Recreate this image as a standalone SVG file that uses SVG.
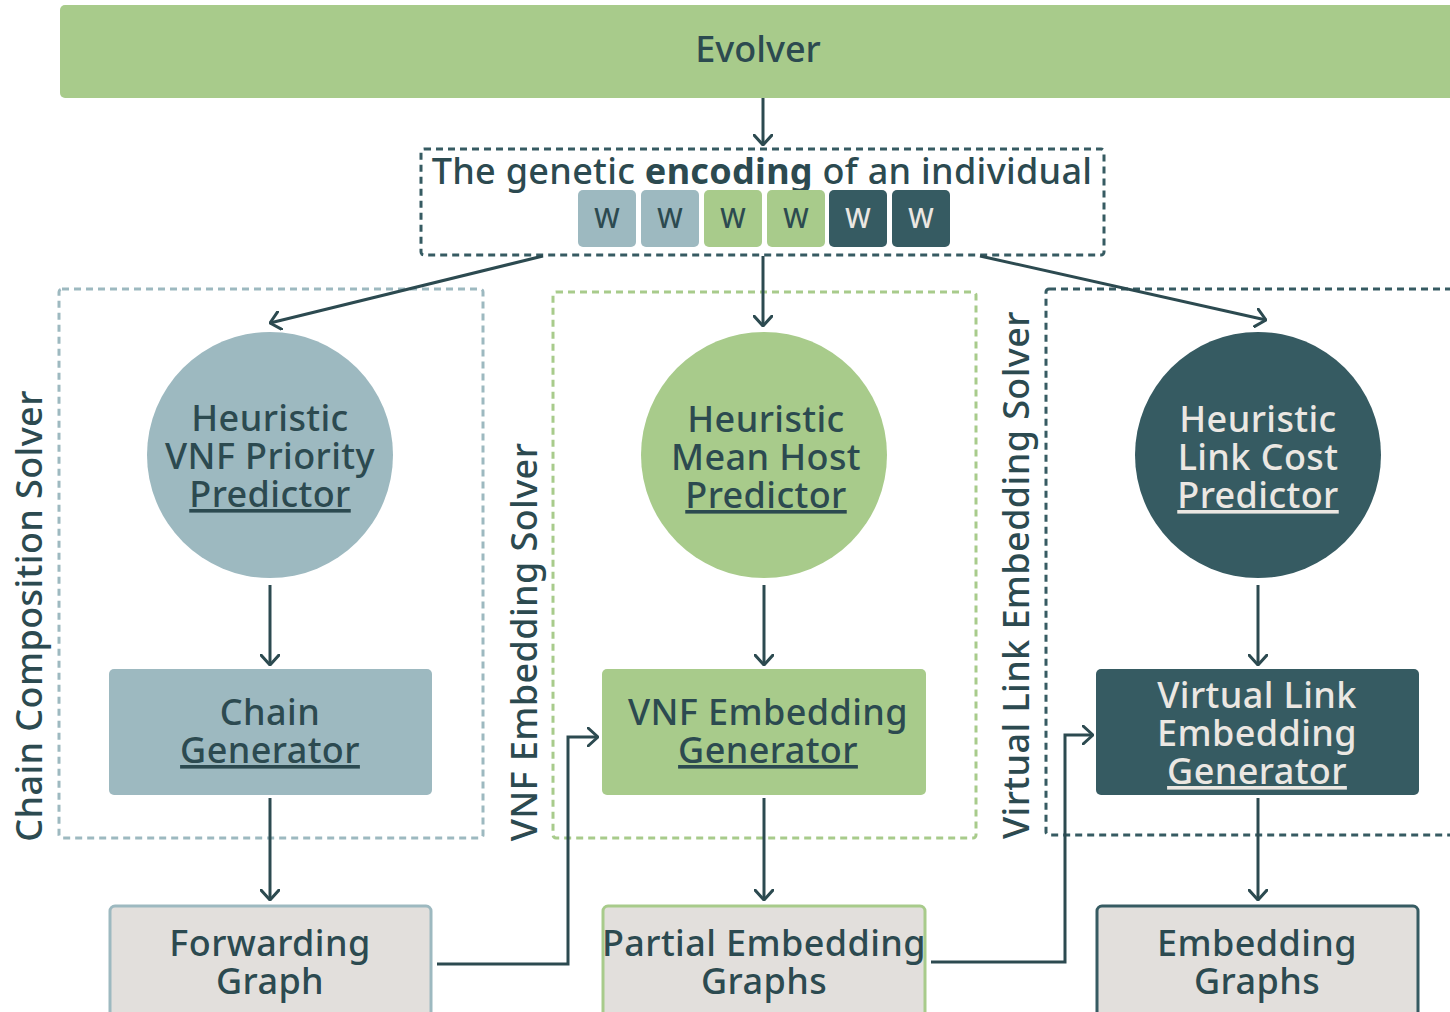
<svg xmlns="http://www.w3.org/2000/svg" width="1450" height="1012" viewBox="0 0 1450 1012">
<style>
text{font-family:"Noto Sans","Open Sans",sans-serif;fill:#2c4a50;text-anchor:middle;font-weight:500}
.big{font-size:36px;letter-spacing:0.4px}
.lt{fill:#ebe7e2}
.u{text-decoration:underline}
.con{fill:none;stroke:#2c4a50;stroke-width:3}
</style>
<defs>
<marker id="ah" viewBox="0 0 12 20" refX="11" refY="10" markerWidth="12" markerHeight="20" markerUnits="userSpaceOnUse" orient="auto">
<path d="M1,1 L11,10 L1,19" fill="none" stroke="#2c4a50" stroke-width="3" stroke-linecap="round" stroke-linejoin="round"/>
</marker>
</defs>
<rect width="1450" height="1012" fill="#ffffff"/>

<g id="evolver">
<rect x="60" y="5" width="1400" height="93" rx="5" fill="#a8cb8b"/>
<text x="758" y="62" style="font-size:36px">Evolver</text>
</g>

<g id="encoding">
<rect x="421" y="149" width="683" height="106" rx="3" fill="none" stroke="#365b62" stroke-width="3" stroke-dasharray="7 5"/>
<text x="762" y="184" style="font-size:36px;letter-spacing:0.3px">The genetic <tspan font-weight="bold">encoding</tspan> of an individual</text>
<rect x="578" y="190" width="58" height="57" rx="5" fill="#9db9c0"/>
<rect x="641" y="190" width="58" height="57" rx="5" fill="#9db9c0"/>
<rect x="704" y="190" width="58" height="57" rx="5" fill="#a8cb8b"/>
<rect x="767" y="190" width="58" height="57" rx="5" fill="#a8cb8b"/>
<rect x="829" y="190" width="58" height="57" rx="5" fill="#365b62"/>
<rect x="892" y="190" width="58" height="57" rx="5" fill="#365b62"/>
<g style="font-size:27px;font-weight:600">
<text x="607" y="228">W</text>
<text x="670" y="228">W</text>
<text x="733" y="228">W</text>
<text x="796" y="228">W</text>
<text x="858" y="228" class="lt">W</text>
<text x="921" y="228" class="lt">W</text>
</g>
</g>

<g id="chain-solver">
<rect x="59" y="289" width="424" height="549" rx="3" fill="none" stroke="#9db9c0" stroke-width="3" stroke-dasharray="7 5"/>
<text transform="translate(42,616) rotate(-90)" class="big">Chain Composition Solver</text>
</g>
<g id="vnf-solver">
<rect x="553" y="292" width="423" height="546" rx="3" fill="none" stroke="#a8cb8b" stroke-width="3" stroke-dasharray="7 5"/>
<text transform="translate(537,642) rotate(-90)" class="big">VNF Embedding Solver</text>
</g>
<g id="vl-solver">
<rect x="1046" y="289" width="420" height="546" rx="3" fill="none" stroke="#365b62" stroke-width="3" stroke-dasharray="7 5"/>
<text transform="translate(1029,575) rotate(-90)" class="big">Virtual Link Embedding Solver</text>
</g>

<g id="vnf-priority-predictor">
<circle cx="270" cy="455" r="123" fill="#9db9c0"/>
<text x="270" y="431" class="big">Heuristic</text>
<text x="270" y="469" class="big">VNF Priority</text>
<text x="270" y="507" class="big u">Predictor</text>
</g>
<g id="mean-host-predictor">
<circle cx="764" cy="455" r="123" fill="#a8cb8b"/>
<text x="766" y="432" class="big">Heuristic</text>
<text x="766" y="470" class="big">Mean Host</text>
<text x="766" y="508" class="big u">Predictor</text>
</g>
<g id="link-cost-predictor">
<circle cx="1258" cy="455" r="123" fill="#365b62"/>
<text x="1258" y="432" class="big lt">Heuristic</text>
<text x="1258" y="470" class="big lt">Link Cost</text>
<text x="1258" y="508" class="big lt u">Predictor</text>
</g>

<g id="chain-generator">
<rect x="109" y="669" width="323" height="126" rx="5" fill="#9db9c0"/>
<text x="270" y="725" class="big">Chain</text>
<text x="270" y="763" class="big u">Generator</text>
</g>
<g id="vnf-embedding-generator">
<rect x="602" y="669" width="324" height="126" rx="5" fill="#a8cb8b"/>
<text x="768" y="725" class="big">VNF Embedding</text>
<text x="768" y="763" class="big u">Generator</text>
</g>
<g id="vl-embedding-generator">
<rect x="1096" y="669" width="323" height="126" rx="5" fill="#365b62"/>
<text x="1257" y="708" class="big lt">Virtual Link</text>
<text x="1257" y="746" class="big lt">Embedding</text>
<text x="1257" y="784" class="big lt u">Generator</text>
</g>

<g id="forwarding-graph">
<rect x="110" y="906" width="321" height="120" rx="5" fill="#e2dfdc" stroke="#9db9c0" stroke-width="3"/>
<text x="270" y="956" class="big">Forwarding</text>
<text x="270" y="994" class="big">Graph</text>
</g>
<g id="partial-embedding-graphs">
<rect x="603" y="906" width="322" height="120" rx="5" fill="#e2dfdc" stroke="#a8cb8b" stroke-width="3"/>
<text x="764" y="956" class="big">Partial Embedding</text>
<text x="764" y="994" class="big">Graphs</text>
</g>
<g id="embedding-graphs">
<rect x="1097" y="906" width="321" height="120" rx="5" fill="#e2dfdc" stroke="#365b62" stroke-width="3"/>
<text x="1257" y="956" class="big">Embedding</text>
<text x="1257" y="994" class="big">Graphs</text>
</g>

<g id="connectors">
<path class="con" d="M763,98 V145" marker-end="url(#ah)"/>
<path class="con" d="M543,256 L270,323" marker-end="url(#ah)"/>
<path class="con" d="M763,256 V326" marker-end="url(#ah)"/>
<path class="con" d="M980,256 L1266,320" marker-end="url(#ah)"/>
<path class="con" d="M270,585 V665" marker-end="url(#ah)"/>
<path class="con" d="M764,585 V665" marker-end="url(#ah)"/>
<path class="con" d="M1258,585 V665" marker-end="url(#ah)"/>
<path class="con" d="M270,798 V900" marker-end="url(#ah)"/>
<path class="con" d="M764,798 V900" marker-end="url(#ah)"/>
<path class="con" d="M1258,798 V900" marker-end="url(#ah)"/>
<path class="con" d="M437,964 H568 V737 H598" marker-end="url(#ah)"/>
<path class="con" d="M931,962 H1065 V735 H1093" marker-end="url(#ah)"/>
</g>
</svg>
